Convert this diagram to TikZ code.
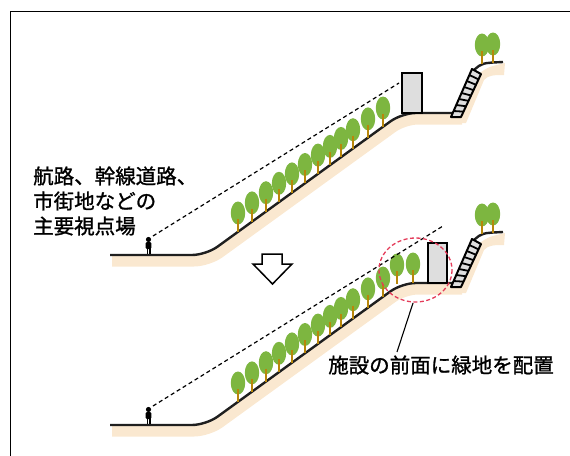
\documentclass[tikz,border=0pt]{standalone}
\usepackage{fontspec}
\usetikzlibrary{calc}
\newfontfamily\jp[FakeBold=1.2]{Noto Sans CJK JP}
\definecolor{soil}{RGB}{250,232,208}
\definecolor{leaf}{RGB}{125,182,64}
\definecolor{trunk}{RGB}{184,134,11}
\definecolor{bldg}{RGB}{222,222,222}
\definecolor{ringred}{RGB}{228,60,90}
% terrain profile (surface, soil band, stair and upper terrace)
\newcommand\slopeland{%
  \draw[soilband] (112,261) -- (208,261) -- (404,119) -- (462,119);
  \fill[soil] (458,118) -- (480,73) .. controls (488,67) .. (505,63)
    -- (504,75) .. controls (495,75) and (488,75) .. (484,80) -- (466,123) -- (458,123) -- cycle;
  \draw[ground] (110,255) -- (206,255) -- (402,113) -- (454,113);
  \draw[ground, rounded corners=0pt] (474,70) .. controls (482,63) .. (503,62);
  \draw[line width=2pt, fill=bldg, line join=round]
    (451,117) -- (461,117) -- (481,74) -- (472,69) -- cycle;
  \foreach \t in {0.125,0.25,...,0.9} {
    \draw[line width=1.8pt] ($(451,117)!\t!(472,69)$) -- ($(461,117)!\t!(481,74)$);
  }
  \pic at (482,64) {tree};
  \pic at (493,63) {tree};
  \foreach \x in {238,252,266,279,292,305,318,330,341,353,368,383}
    \pic at (\x,{232-(\x-238)*0.724}) {tree};
  \pic at (148.5,254) {person};
}
\begin{document}
\begin{tikzpicture}[x=1pt,y=-1pt,
  ground/.style={line width=2.4pt, draw=black!88, rounded corners=14pt, line join=round},
  soilband/.style={line width=11pt, draw=soil, rounded corners=14pt},
  sight/.style={dash pattern=on 4pt off 3pt, line width=1.2pt},
  building/.style={fill=bldg, draw=black, line width=1.6pt},
  label/.style={font=\jp\fontsize{20.5}{25}\selectfont, inner sep=0pt},
  tree/.pic={
    \fill[leaf] (0,-19) ellipse [x radius=7.2, y radius=11.5];
    \draw[trunk, line width=2.2pt] (0,-13) -- (0,0);
  },
  person/.pic={
    \fill (0,-14.5) circle [radius=2.6];
    \fill[rounded corners=1.2pt] (-2.8,-12) rectangle (2.8,-5);
    \fill (-2,-6) rectangle (-0.4,0);
    \fill (0.4,-6) rectangle (2,0);
  }]
\useasboundingbox (0,0) rectangle (570,455);
\draw[line width=1.5pt] (10.5,11.5) rectangle (600,490);

% upper profile: present state
\slopeland
\draw[building] (402,73) rectangle (422,113);
\coordinate (eyeA) at (153,236);
\coordinate (endA) at (399,83);
\draw[sight] (eyeA) -- (endA);

% lower profile: greenery placed in front of the facility
\begin{scope}[shift={(0,170)}]
  \slopeland
  \pic at (397,114) {tree};
  \pic at (413,113) {tree};
  \draw[building] (428,73) rectangle (447,113);
  \coordinate (eyeB) at (153,236);
  \coordinate (endB) at (443,56);
  \draw[sight] (eyeB) -- (endB);
\end{scope}

% transition arrow
\draw[line width=1.5pt, fill=white, line join=miter]
  (262,254) -- (282,254) -- (282,264) -- (292,264) -- (272.5,284)
  -- (253,264) -- (262,264) -- cycle;

% highlight ring and its caption
\draw[ringred, line width=1.3pt, dash pattern=on 4pt off 2.5pt]
  (415.5,270) ellipse [x radius=36.5, y radius=32];
\coordinate (ringfoot) at (413,303);
\node[label] (cap) at (441,365) {施設の前面に緑地を配置};
\draw[line width=1.1pt] (ringfoot) -- (397,352);

\node[label, anchor=west, align=left] (viewpt) at (33,201)
  {航路、幹線道路、\\市街地などの\\主要視点場};
\end{tikzpicture}
\end{document}
